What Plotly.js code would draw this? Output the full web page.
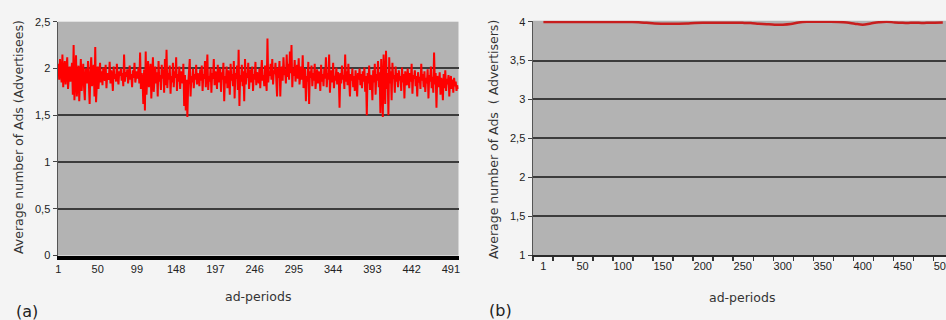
<!DOCTYPE html>
<html>
<head>
<meta charset="utf-8">
<script src="https://cdn.plot.ly/plotly-3.0.1.min.js"></script>
<style>html,body{margin:0;padding:0;background:#f4f4f4;}#chart{width:946px;height:320px;}</style>
</head>
<body>
<div id="chart"></div>
<script>
// ---- Data ----
// (a) Average number of Ads (Advertisees), ad-periods 1..500
const valuesA = [
2.05,1.88,2.10,1.92,1.85,2.15,1.80,1.97,2.08,1.83,1.95,2.12,1.78,1.99,2.02,1.86,1.93,2.06,1.72,2.25,1.66,1.98,2.14,1.70,1.90,
2.03,1.65,1.88,2.10,1.76,1.95,2.05,1.80,1.66,2.00,1.92,1.84,2.08,1.74,1.62,1.96,2.12,1.81,1.90,2.04,1.70,2.23,1.64,1.89,2.02,
1.78,1.93,2.06,1.85,1.97,1.82,2.01,1.90,1.87,2.04,1.79,1.95,1.92,1.88,2.07,1.84,1.98,1.91,1.76,2.02,1.89,1.94,1.86,2.05,1.90,
1.83,1.97,1.92,2.00,1.87,1.95,1.81,2.15,1.86,1.96,1.91,1.99,1.84,1.93,2.03,1.88,1.94,1.80,1.98,1.90,2.06,1.85,1.92,1.97,1.89,
2.01,1.84,2.17,1.78,1.95,1.88,1.62,1.99,1.55,2.18,1.72,1.94,2.08,1.80,1.91,2.05,1.68,1.97,2.12,1.75,1.90,2.02,1.84,1.96,1.70,
2.08,1.86,1.93,1.77,2.04,1.89,1.99,1.74,2.10,1.82,2.20,1.79,1.95,1.88,2.03,1.73,1.92,1.85,2.06,1.80,1.97,1.90,2.12,1.76,1.94,
1.86,2.02,1.78,1.97,1.90,1.84,2.05,1.60,1.93,1.55,1.88,1.48,1.82,1.96,2.10,1.70,1.92,1.85,2.00,1.79,1.94,1.88,2.04,1.83,1.95,
1.90,1.81,1.99,1.87,2.03,1.76,1.94,1.89,2.08,1.80,1.96,2.15,1.77,1.92,1.86,2.01,1.74,1.95,1.89,2.10,1.82,1.97,1.91,1.78,2.04,
1.85,1.93,2.00,1.75,1.96,1.88,2.06,1.65,1.92,1.84,2.02,1.79,1.98,1.90,1.72,2.05,1.87,1.94,1.81,2.08,1.68,1.95,1.89,2.03,1.77,
2.20,1.60,1.93,1.86,2.04,1.81,1.97,1.65,2.10,1.83,1.95,1.90,2.06,1.78,1.92,1.99,1.85,2.02,1.76,1.94,1.88,2.07,1.82,1.96,1.91,
1.84,2.00,1.79,1.95,2.09,1.87,1.93,1.81,2.03,1.89,1.76,2.32,1.85,1.97,1.92,2.05,1.88,2.10,1.83,1.98,1.94,2.06,1.86,1.70,2.01,
1.90,2.08,1.70,1.96,2.02,1.87,2.12,1.93,1.99,1.84,2.15,1.91,2.05,1.88,2.18,1.95,2.25,1.80,2.00,1.92,2.09,1.86,1.97,2.04,1.89,
2.11,1.83,1.96,2.02,1.88,2.14,1.79,1.94,2.00,1.65,1.92,1.86,2.07,1.62,1.97,1.90,2.03,1.81,1.95,1.87,2.05,1.78,1.93,1.99,1.84,
1.97,1.90,1.76,2.04,1.86,1.94,1.81,2.00,1.89,2.12,1.80,1.95,1.88,2.15,1.74,1.93,1.98,1.85,2.06,1.79,1.92,1.87,2.01,1.83,1.96,
1.90,1.58,1.95,1.84,2.03,1.88,1.93,1.78,2.15,1.86,1.97,1.82,2.05,1.91,1.70,1.94,1.87,2.00,1.80,1.92,1.76,1.98,1.85,1.70,1.95,
1.88,2.00,1.82,1.94,1.79,1.97,1.86,2.01,1.75,1.92,1.50,1.95,1.84,2.03,1.77,1.93,1.89,1.66,1.98,1.85,2.05,1.72,1.94,1.87,2.08,
1.80,1.96,1.52,2.10,1.85,1.48,2.15,1.90,1.62,2.19,1.78,1.95,1.50,2.12,1.84,1.97,1.66,2.06,1.89,1.93,1.74,2.02,1.86,1.95,1.80,
1.98,1.87,1.92,1.76,2.01,1.85,1.94,1.68,1.97,1.90,1.82,2.00,1.88,1.79,1.95,1.86,2.05,1.73,1.93,1.89,1.98,1.81,1.92,1.70,1.96,
1.85,1.91,1.78,2.05,1.87,1.94,1.80,1.97,1.75,1.90,1.84,1.99,1.68,1.93,1.86,2.02,1.79,1.91,1.74,2.17,1.83,1.95,1.58,1.92,1.88,
1.80,1.96,1.72,1.90,1.85,1.66,1.94,1.79,1.98,1.76,1.89,1.83,1.93,1.70,1.87,1.92,1.78,1.88,1.74,1.90,1.81,1.86,1.76,1.82,1.78
];
// (b) Average number of Ads (Advertisers), sampled ad-periods
const periodsB = [1,10,20,30,40,50,60,70,80,90,100,110,120,130,140,150,160,170,180,190,200,210,220,230,240,250,
  260,270,280,290,300,310,320,330,340,350,360,370,380,390,400,410,420,430,440,450,460,470,480,490,500];
const valuesB = [3.995,3.995,3.995,3.995,3.995,3.995,3.995,3.995,3.995,3.995,3.995,3.995,3.993,3.985,3.977,3.975,3.975,3.975,3.977,3.983,3.985,3.985,3.985,3.985,3.985,3.985,
  3.983,3.975,3.968,3.962,3.962,3.970,3.990,3.998,3.998,3.998,3.998,3.996,3.990,3.975,3.962,3.978,3.993,4.000,3.990,3.985,3.985,3.985,3.985,3.988,3.990];
// Tick labels
const tickValsA = [1,50,99,148,197,246,295,344,393,442,491];
const yTickValsA = [0,0.5,1,1.5,2,2.5];
const yTickTextA = ['0','0,5','1','1,5','2','2,5'];
const tickValsB = [1,50,100,150,200,250,300,350,400,450,500];
const yTickValsB = [1,1.5,2,2.5,3,3.5,4];
const yTickTextB = ['1','1,5','2','2,5','3','3,5','4'];

const periodsA = valuesA.map((v, i) => i + 1);

const tickFont = {family: 'Liberation Sans, Arial, sans-serif', size: 11, color: '#222'};
const titleFont = {family: 'DejaVu Sans, sans-serif', size: 12.5, color: '#333'};
const gridC = '#3c3c3c';

const traces = [
  {x: periodsA, y: valuesA, type: 'scatter', mode: 'lines', xaxis: 'x', yaxis: 'y',
   line: {color: '#ff0000', width: 2}, hoverinfo: 'skip'},
  {x: periodsB, y: valuesB, type: 'scatter', mode: 'lines', xaxis: 'x2', yaxis: 'y2',
   line: {color: '#c81e1e', width: 2.5, shape: 'spline'}, hoverinfo: 'skip'}
];

const layout = {
  width: 946, height: 320,
  margin: {l: 0, r: 0, t: 0, b: 0},
  paper_bgcolor: '#f4f4f4',
  plot_bgcolor: '#b3b3b3',
  showlegend: false,
  xaxis: {
    domain: [58/946, 458.5/946], anchor: 'y', range: [0.5, 500.5],
    tickmode: 'array', tickvals: tickValsA, ticktext: tickValsA.map(String),
    ticks: '', showgrid: false, zeroline: false,
    showline: true, linecolor: '#000', linewidth: 4,
    tickfont: tickFont, fixedrange: true
  },
  yaxis: {
    domain: [(320-255.5)/320, (320-21.7)/320], anchor: 'x', range: [0, 2.5],
    tickmode: 'array', tickvals: yTickValsA, ticktext: yTickTextA,
    ticks: 'outside', ticklen: 4, tickcolor: '#444',
    showgrid: true, gridcolor: gridC, gridwidth: 2, zeroline: false,
    showline: true, linecolor: '#555', linewidth: 1.5,
    tickfont: tickFont, fixedrange: true
  },
  xaxis2: {
    domain: [533/946, 1], anchor: 'y2', range: [-12, 504],
    tickmode: 'array', tickvals: tickValsB, ticktext: tickValsB.map(String),
    ticklabeloverflow: 'allow',
    ticks: '', showgrid: false, zeroline: false,
    showline: true, linecolor: '#2a2a2a', linewidth: 2,
    minor: {ticks: 'outside', ticklen: 4, tickcolor: '#333', tickwidth: 1.2, tickmode: 'linear', tick0: 13, dtick: 25, showgrid: false},
    tickfont: tickFont, fixedrange: true
  },
  yaxis2: {
    domain: [(320-255)/320, (320-20.77)/320], anchor: 'x2', range: [1, 4.012],
    tickmode: 'array', tickvals: yTickValsB, ticktext: yTickTextB,
    ticks: 'outside', ticklen: 4, tickcolor: '#444',
    showgrid: true, gridcolor: gridC, gridwidth: 2, zeroline: false,
    showline: true, linecolor: '#555', linewidth: 1.5,
    tickfont: tickFont, fixedrange: true
  },
  annotations: [
    {text: 'Average number of Ads (Advertisees)', xref: 'paper', yref: 'paper',
     x: 18/946, y: (320-137)/320, textangle: -90, showarrow: false, font: titleFont,
     xanchor: 'center', yanchor: 'middle'},
    {text: 'ad-periods', xref: 'paper', yref: 'paper', x: 258/946, y: (320-296)/320,
     showarrow: false, font: titleFont, xanchor: 'center', yanchor: 'middle'},
    {text: '(a)', xref: 'paper', yref: 'paper', x: 27/946, y: (320-311)/320,
     showarrow: false, font: {family: 'DejaVu Sans, sans-serif', size: 16, color: '#222'},
     xanchor: 'center', yanchor: 'middle'},
    {text: 'Average number of Ads  ( Advertisers)', xref: 'paper', yref: 'paper',
     x: 493/946, y: (320-140)/320, textangle: -90, showarrow: false, font: titleFont,
     xanchor: 'center', yanchor: 'middle'},
    {text: 'ad-periods', xref: 'paper', yref: 'paper', x: 742/946, y: (320-297)/320,
     showarrow: false, font: titleFont, xanchor: 'center', yanchor: 'middle'},
    {text: '(b)', xref: 'paper', yref: 'paper', x: 500/946, y: (320-310)/320,
     showarrow: false, font: {family: 'DejaVu Sans, sans-serif', size: 16, color: '#222'},
     xanchor: 'center', yanchor: 'middle'}
  ]
};

Plotly.newPlot('chart', traces, layout, {displayModeBar: false, staticPlot: true});
</script>
</body>
</html>
